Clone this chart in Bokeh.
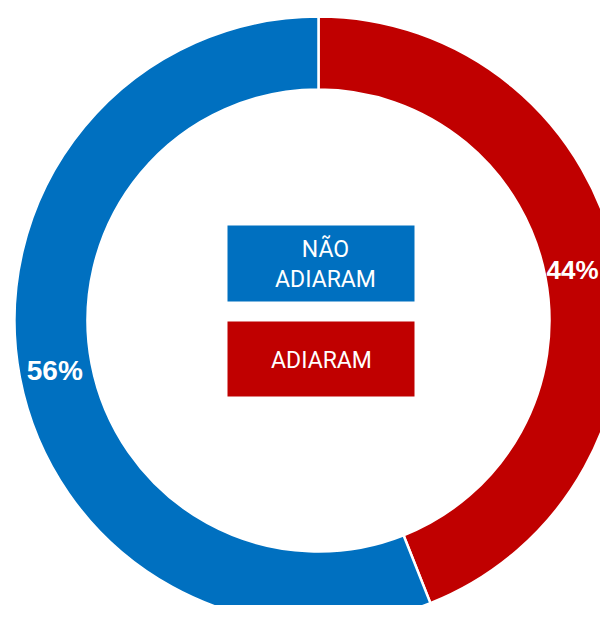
import numpy as np
from bokeh.plotting import figure
from bokeh.models import ColumnDataSource, Range1d
from bokeh.core.properties import value
from bokeh.embed import file_html
from bokeh.resources import INLINE

# ---- data ----
categories = ["ADIARAM", "NÃO ADIARAM"]
values = [44, 56]
pct_labels = ["44%", "56%"]
box_categories = ["NÃO ADIARAM", "ADIARAM"]
box_lines = [["NÃO", "ADIARAM"], ["ADIARAM"]]

# ---- style ----
colors = {"ADIARAM": "#C00000", "NÃO ADIARAM": "#0070C0"}
W, H = 600, 605
CX, CY = 318, 320
R_IN, R_OUT = 231, 304

vals = np.array(values, dtype=float)
frac = vals / vals.sum()
cum = np.cumsum(frac)
start = np.pi / 2 - 2 * np.pi * (cum - frac)
end = np.pi / 2 - 2 * np.pi * cum
mid = (start + end) / 2
r_mid = (R_IN + R_OUT) / 2 + 1

label_sizes = [26, 28]
lx = r_mid * np.cos(mid)
ly = r_mid * np.sin(mid)
# keep labels inside the visible frame
half_w = np.array([s * 1.0 for s in label_sizes])
lx = np.minimum(lx, (W - CX) - half_w - 2)

src = ColumnDataSource(dict(
    cat=categories,
    start=start,
    end=end,
    color=[colors[c] for c in categories],
    lx=lx,
    ly=ly,
    lab=pct_labels,
    fs=[f"{s}px" for s in label_sizes],
))

p = figure(width=W, height=H,
           x_range=Range1d(-CX, W - CX), y_range=Range1d(-(H - CY), CY),
           output_backend="svg", toolbar_location=None,
           x_axis_type=None, y_axis_type=None, min_border=0)
p.grid.visible = False
p.outline_line_color = None
p.background_fill_color = "white"
p.border_fill_color = "white"

p.annular_wedge(x=0, y=0, inner_radius=R_IN, outer_radius=R_OUT,
                start_angle="start", end_angle="end", direction="clock",
                fill_color="color", line_color="white", line_width=2.5,
                source=src)

p.text(x="lx", y="ly", text="lab", source=src,
       text_font=value("Liberation Sans"), text_font_style="bold",
       text_font_size="fs", text_color="white",
       text_align="center", text_baseline="middle")

# ---- center "legend" boxes ----
BOX_L, BOX_R = -91, 96
box_top = [95, -1]
box_bot = [19, -76]
p.quad(left=BOX_L, right=BOX_R, top=box_top, bottom=box_bot,
       fill_color=[colors[c] for c in box_categories], line_color=None)

tx, ty, tt = [], [], []
text_cx = [7, 3]
line_gap = 30
for i, lines in enumerate(box_lines):
    cyb = (box_top[i] + box_bot[i]) / 2 - 1
    n = len(lines)
    for j, t in enumerate(lines):
        tx.append(text_cx[i])
        ty.append(cyb + (n - 1) * line_gap / 2 - j * line_gap)
        tt.append(t)

p.text(x=tx, y=ty, text=tt, text_font=value("Roboto"),
       text_font_size="23px", text_color="white",
       text_align="center", text_baseline="middle")

open("out.html", "w").write(file_html(p, INLINE))
